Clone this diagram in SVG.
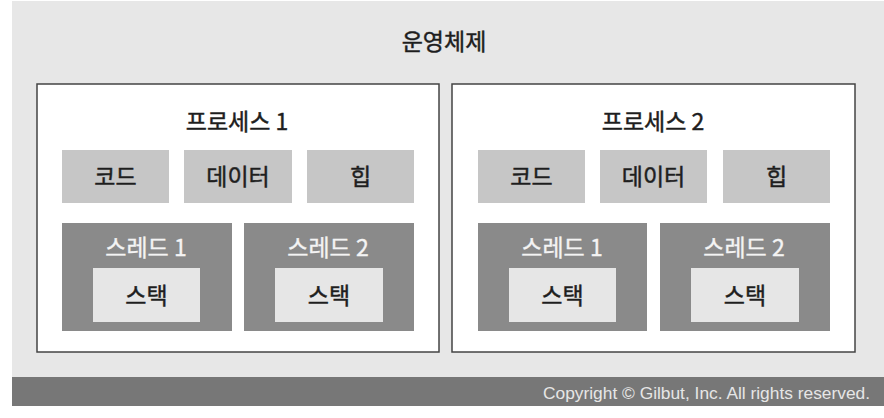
<svg xmlns="http://www.w3.org/2000/svg" width="884" height="418" viewBox="0 0 884 418">
<style>
text{font-family:"Noto Sans CJK KR","Noto Sans",sans-serif;text-anchor:middle;font-size:23px;font-weight:400}
.d{fill:#1e1e1e;stroke:#1e1e1e;stroke-width:0.45}
.w{fill:#f4f4f4;stroke:#f4f4f4;stroke-width:0.35}
.proc{fill:#fff;stroke:#444;stroke-width:1.5}
.seg{fill:#c6c6c6}
.thr{fill:#8a8a8a}
.stk{fill:#e6e6e6}
</style>
<rect x="0" y="0" width="884" height="418" fill="#fff"/>
<g id="os">
<rect x="12" y="1" width="872" height="376" fill="#e7e7e7"/>
<text class="d" x="444" y="50">운영체제</text>
</g>
<g id="process1">
<rect class="proc" x="37" y="84" width="402" height="268"/>
<text class="d" x="237" y="130">프로세스 1</text>
</g>
<g id="p1-code"><rect class="seg" x="62" y="150" width="107" height="53"/><text class="d" x="115.5" y="184.5">코드</text></g>
<g id="p1-data"><rect class="seg" x="184" y="150" width="108" height="53"/><text class="d" x="238" y="184.5">데이터</text></g>
<g id="p1-heap"><rect class="seg" x="307" y="150" width="107" height="53"/><text class="d" x="360.5" y="184.5">힙</text></g>
<g id="p1-thread1"><rect class="thr" x="62" y="223" width="170" height="108"/><text class="w" x="146" y="256">스레드 1</text></g>
<g id="p1-stack1"><rect class="stk" x="93" y="268" width="107" height="54"/><text class="d" x="146.5" y="303.5">스택</text></g>
<g id="p1-thread2"><rect class="thr" x="244" y="223" width="170" height="108"/><text class="w" x="328" y="256">스레드 2</text></g>
<g id="p1-stack2"><rect class="stk" x="275" y="268" width="108" height="54"/><text class="d" x="329" y="303.5">스택</text></g>
<g id="process2">
<rect class="proc" x="452" y="84" width="403" height="268"/>
<text class="d" x="653" y="130">프로세스 2</text>
</g>
<g id="p2-code"><rect class="seg" x="478" y="150" width="107" height="53"/><text class="d" x="531.5" y="184.5">코드</text></g>
<g id="p2-data"><rect class="seg" x="600" y="150" width="107" height="53"/><text class="d" x="653.5" y="184.5">데이터</text></g>
<g id="p2-heap"><rect class="seg" x="723" y="150" width="107" height="53"/><text class="d" x="776.5" y="184.5">힙</text></g>
<g id="p2-thread1"><rect class="thr" x="478" y="223" width="169" height="108"/><text class="w" x="562" y="256">스레드 1</text></g>
<g id="p2-stack1"><rect class="stk" x="509" y="268" width="107" height="54"/><text class="d" x="562.5" y="303.5">스택</text></g>
<g id="p2-thread2"><rect class="thr" x="660" y="223" width="170" height="108"/><text class="w" x="744" y="256">스레드 2</text></g>
<g id="p2-stack2"><rect class="stk" x="691" y="268" width="108" height="54"/><text class="d" x="745" y="303.5">스택</text></g>
<g id="connectors"></g>
<g id="footer">
<rect x="12" y="377" width="872" height="29" fill="#777"/>
<text x="543" y="399" textLength="327" lengthAdjust="spacingAndGlyphs" style="text-anchor:start;font-family:'Liberation Sans',Arial,sans-serif;font-size:16px;font-weight:400;fill:#e6e6e6">Copyright © Gilbut, Inc. All rights reserved.</text>
</g>
</svg>
